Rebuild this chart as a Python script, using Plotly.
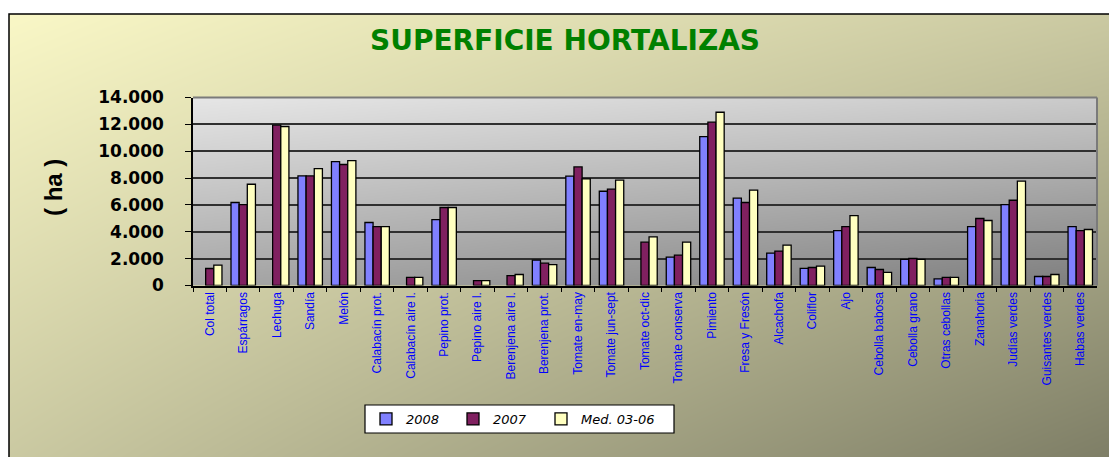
import plotly.graph_objects as go

categories = [
    "Col total", "Espárragos", "Lechuga", "Sandía", "Melón", "Calabacín prot.",
    "Calabacín aire l.", "Pepino prot.", "Pepino aire l.", "Berenjena aire l.",
    "Berenjena prot.", "Tomate en-may", "Tomate jun-sept", "Tomate oct-dic",
    "Tomate conserva", "Pimiento", "Fresa y Fresón", "Alcachofa", "Coliflor",
    "Ajo", "Cebolla babosa", "Cebolla grano", "Otras cebollas", "Zanahoria",
    "Judías verdes", "Guisantes verdes", "Habas verdes",
]
s2008 = [None, 6180, None, 8160, 9230, 4690, None, 4910, None, None,
         1890, 8140, 7020, None, 2110, 11090, 6500, 2410, 1270,
         4090, 1340, 1940, 500, 4390, 6030, 670, 4390]
s2007 = [1265, 6030, 11940, 8160, 9010, 4390, 600, 5810, 370, 740,
         1660, 8830, 7170, 3230, 2260, 12160, 6180, 2560, 1340,
         4390, 1190, 2010, 600, 4990, 6350, 670, 4090]
med0306 = [1510, 7540, 11840, 8710, 9300, 4390, 600, 5810, 370, 820,
           1560, 7940, 7840, 3620, 3230, 12900, 7100, 3000, 1440,
           5210, 970, 1940, 600, 4840, 7770, 820, 4170]
series_names = ["2008", "2007", "Med. 03-06"]
y_ticks = [0, 2000, 4000, 6000, 8000, 10000, 12000, 14000]

W, H = 1109, 457
def fx(x):
    return x / W
def fy(y):
    return 1 - y / H

PX0, PX1, PY0, PY1 = 193, 1097, 97.5, 285.5
FX0, FY0 = 9, 14
LX0, LX1, LY0, LY1 = 365, 674, 405, 433
legend_item_x = [366, 453, 541]

fig = go.Figure()

# background gradient (frame)
fig.add_trace(go.Heatmap(
    x=[0, 1], y=[0, 1], z=[[0.62, 0.0], [1.0, 0.62]],
    zsmooth="best", showscale=False, hoverinfo="skip",
    colorscale=[[0, "rgb(126,126,102)"], [1, "rgb(249,247,198)"]],
    zmin=0, zmax=1, xaxis="x", yaxis="y",
))
# plot-area gradient
fig.add_trace(go.Heatmap(
    x=[0, 1], y=[0, 1], z=[[0.42, 0.06], [0.98, 0.74]],
    zsmooth="best", showscale=False, hoverinfo="skip",
    colorscale=[[0, "rgb(118,118,118)"], [1, "rgb(232,232,232)"]],
    zmin=0, zmax=1, xaxis="x2", yaxis="y2",
))

colors = ["#8080ff", "#802060", "#ffffc0"]
legend_ids = ["legend", "legend2", "legend3"]
for name, vals, col, lid in zip(series_names, [s2008, s2007, med0306], colors, legend_ids):
    fig.add_trace(go.Bar(
        x=categories, y=vals, name=name, xaxis="x3", yaxis="y3", legend=lid,
        marker=dict(color=col, line=dict(color="black", width=1.3)),
    ))

hidden = dict(visible=False, range=[0, 1], fixedrange=True, showgrid=False, zeroline=False)
plot_dom_x = [fx(PX0), fx(PX1)]
plot_dom_y = [fy(PY1), fy(PY0)]

def legend_cfg(xpix):
    return dict(
        orientation="h", x=fx(xpix), y=(fy(LY0) + fy(LY1)) / 2, xanchor="left", yanchor="middle",
        bgcolor="rgba(0,0,0,0)", borderwidth=0,
        font=dict(family="DejaVu Sans, sans-serif", size=13, color="black", style="italic"),
        itemwidth=30,
    )

fig.update_layout(
    width=W, height=H,
    margin=dict(l=0, r=0, t=0, b=0, autoexpand=False),
    paper_bgcolor="white",
    plot_bgcolor="rgba(0,0,0,0)",
    separators=",.",
    barmode="group", bargap=0.27, bargroupgap=0,
    xaxis=dict(domain=[fx(FX0), 1], anchor="y", **hidden),
    yaxis=dict(domain=[0, fy(FY0)], anchor="x", **hidden),
    xaxis2=dict(domain=plot_dom_x, anchor="y2", **hidden),
    yaxis2=dict(domain=plot_dom_y, anchor="x2", **hidden),
    xaxis3=dict(
        domain=plot_dom_x, anchor="y3", type="category",
        showline=True, linecolor="black", linewidth=1.5,
        ticks="outside", ticklen=5, tickcolor="black", tickson="boundaries",
        tickangle=-90, tickfont=dict(family="Liberation Sans, Arial, sans-serif", size=12, color="#0000ff"),
        showgrid=False, zeroline=False,
    ),
    yaxis3=dict(
        domain=plot_dom_y, anchor="x3", range=[0, 14000],
        tickvals=y_ticks, tickformat=",d",
        showline=True, linecolor="black", linewidth=1.5,
        ticks="outside", ticklen=6, tickcolor="black",
        ticklabelstandoff=18,
        tickfont=dict(family="DejaVu Sans, sans-serif", size=17, color="black", weight="bold"),
        showgrid=True, gridcolor="#303030", gridwidth=1.5, zeroline=False,
    ),
    legend=legend_cfg(legend_item_x[0]),
    legend2=legend_cfg(legend_item_x[1]),
    legend3=legend_cfg(legend_item_x[2]),
    showlegend=True,
    annotations=[
        dict(text="SUPERFICIE HORTALIZAS", x=fx(565), y=fy(41), xref="paper", yref="paper",
             showarrow=False, xanchor="center", yanchor="middle",
             font=dict(family="DejaVu Sans, sans-serif", size=28, color="#008000", weight="bold")),
        dict(text="( ha )", x=fx(53), y=fy(188), xref="paper", yref="paper",
             showarrow=False, xanchor="center", yanchor="middle", textangle=-90,
             font=dict(family="Liberation Sans, Arial, sans-serif", size=24, color="black", weight="bold")),
    ],
    shapes=[
        dict(type="rect", xref="paper", yref="paper", x0=fx(FX0), x1=1.02, y0=-0.02, y1=fy(FY0),
             line=dict(color="black", width=1.5), fillcolor="rgba(0,0,0,0)", layer="above"),
        dict(type="line", xref="paper", yref="paper", x0=fx(PX0), x1=fx(PX1), y0=fy(PY0), y1=fy(PY0),
             line=dict(color="#7a7a7a", width=2), layer="above"),
        dict(type="line", xref="paper", yref="paper", x0=fx(PX1), x1=fx(PX1), y0=fy(PY0), y1=fy(PY1),
             line=dict(color="#7a7a7a", width=2), layer="above"),
        dict(type="rect", xref="paper", yref="paper", x0=fx(LX0), x1=fx(LX1), y0=fy(LY1), y1=fy(LY0),
             line=dict(color="black", width=1.2), fillcolor="white", layer="above"),
    ],
)

fig.write_html("out.html", config={"displayModeBar": False},
               post_script="document.body.style.margin='0';")
